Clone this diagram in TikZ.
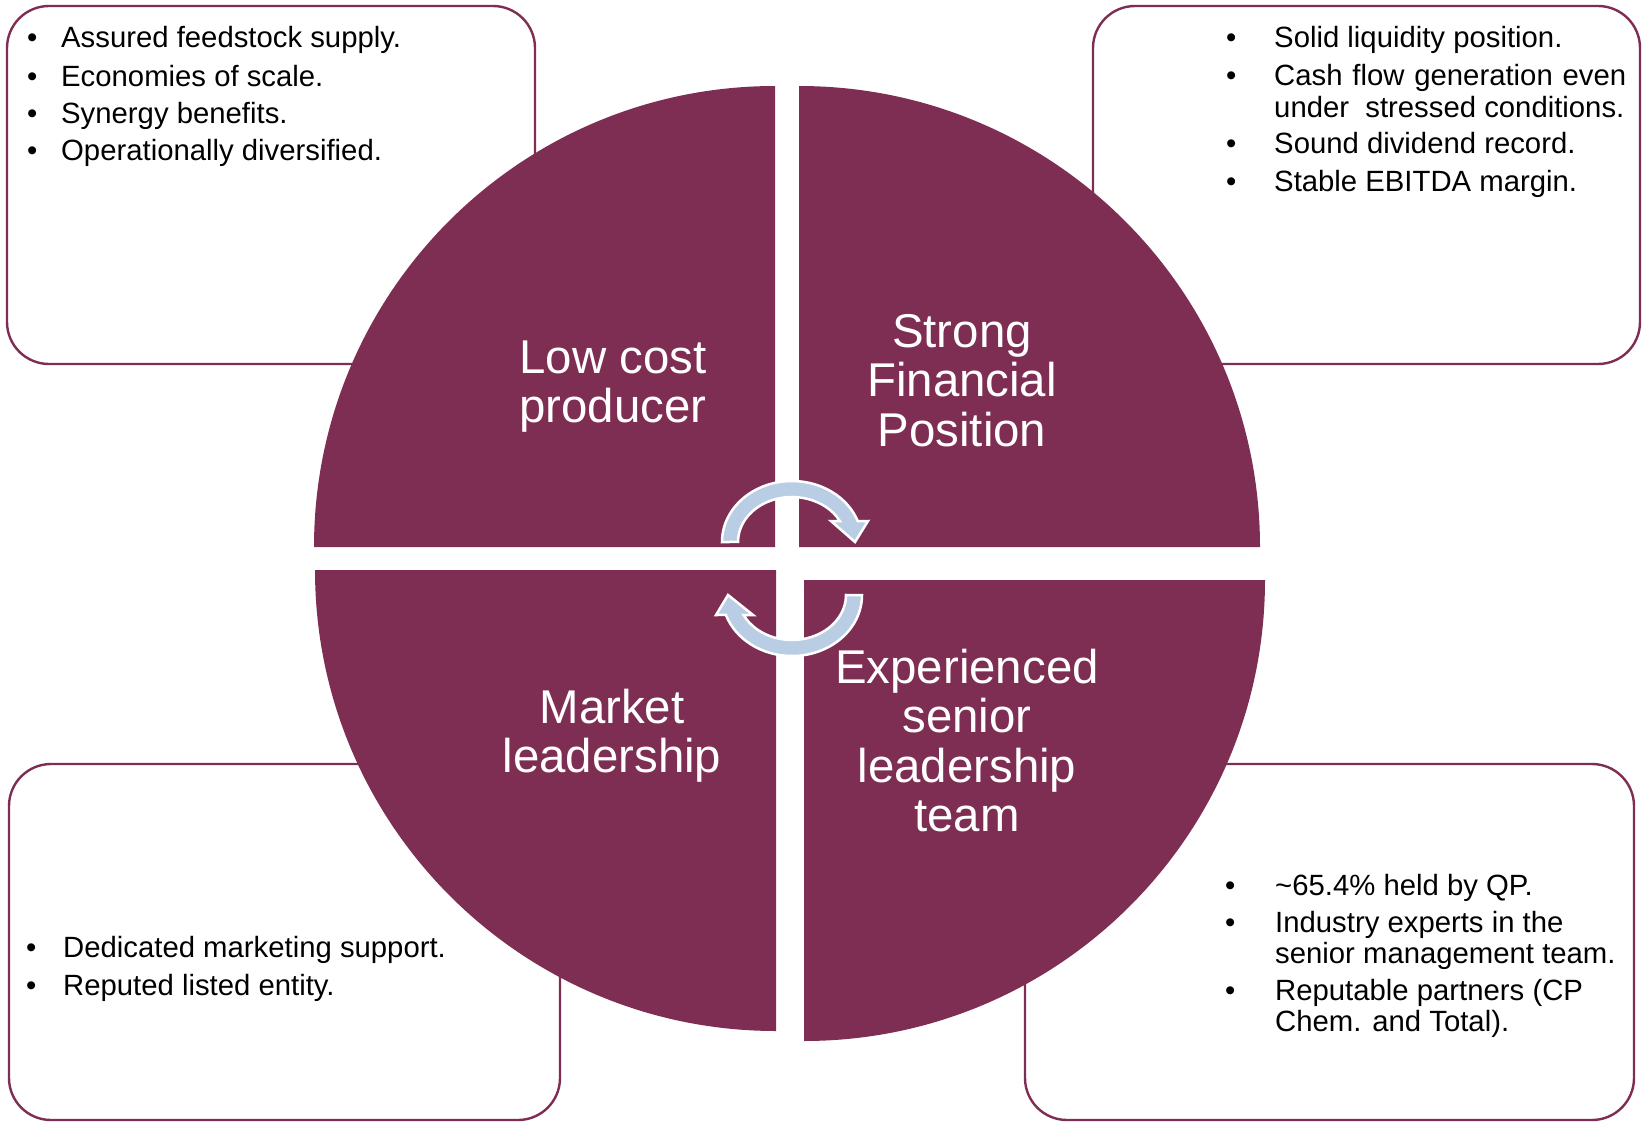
\documentclass[tikz,border=0pt]{standalone}
\usepackage{fontspec}
\setmainfont{Liberation Sans}
\definecolor{maroon}{RGB}{127,46,83}
\definecolor{arrowblue}{RGB}{185,205,229}
\newcommand{\bitem}[3]{\makebox[#1][l]{\textbullet}\parbox[t]{#2}{\raggedright #3}}
\begin{document}
\begin{tikzpicture}[x=1pt,y=-1pt,
  infobox/.style={draw=maroon, line width=2.4pt, fill=white, rounded corners=42pt},
  quadrant/.style={fill=maroon},
  band/.style={fill=arrowblue, draw=white, line width=2.5pt, line join=miter},
  quadlabel/.style={text=white, inner sep=0pt, anchor=base, font=\fontsize{47.4}{49.5}\selectfont},
  bulletitem/.style={inner sep=0pt, anchor=base west, font=\fontsize{29.3}{32}\selectfont}]
\useasboundingbox (0,0) rectangle (1643,1124);
% info boxes
\draw[infobox] (7,6) rectangle (535,364);
\draw[infobox] (1093,6) rectangle (1640,364);
\draw[infobox] (9,764) rectangle (560,1120);
\draw[infobox] (1025,764) rectangle (1634,1120);
% quadrants
\fill[quadrant] (775,547) -- (314,547) arc[start angle=180, end angle=270, radius=461] -- cycle;
\fill[quadrant] (799,547) -- (799,86) arc[start angle=270, end angle=360, radius=461] -- cycle;
\fill[quadrant] (776,570) -- (776,1031) arc[start angle=90, end angle=180, radius=461] -- cycle;
\fill[quadrant] (804,580) -- (1265,580) arc[start angle=0, end angle=90, radius=461] -- cycle;
% circular arrows
\path[band] (722,542) arc[start angle=180, end angle=339.9, x radius=70, y radius=61]
  -- (868,521) -- (855,542) -- (831,521) -- (839.8,521)
  arc[start angle=332.2, end angle=180, x radius=54, y radius=45] -- cycle;
\path[band] (862,595) arc[start angle=0, end angle=160.9, x radius=70, y radius=61]
  -- (716,615) -- (728,595) -- (753,615) -- (743.6,615)
  arc[start angle=153.6, end angle=0, x radius=54, y radius=45] -- cycle;
% quadrant labels
\node[quadlabel] (lowcost) at (613,373) {\parbox[t]{300pt}{\centering Low cost\\producer}};
\node[quadlabel] (financial) at (962,347) {\parbox[t]{300pt}{\centering Strong\\Financial\\Position}};
\node[quadlabel] (market) at (612,723) {\parbox[t]{300pt}{\centering Market\\leadership}};
\node[quadlabel] (team) at (967,683) {\parbox[t]{320pt}{\centering Experienced\\senior\\leadership\\team}};
% top-left box
\node[bulletitem] (tl1) at (27,48) {\bitem{34pt}{440pt}{Assured feedstock supply.}};
\node[bulletitem] (tl2) at (27,86) {\bitem{34pt}{440pt}{Economies of scale.}};
\node[bulletitem] (tl3) at (27,123) {\bitem{34pt}{440pt}{Synergy benefits.}};
\node[bulletitem] (tl4) at (27,160) {\bitem{34pt}{440pt}{Operationally diversified.}};
% top-right box
\node[bulletitem] (tr1) at (1226,48) {\bitem{48pt}{360pt}{Solid liquidity position.}};
\node[bulletitem] (tr2) at (1226,85) {\bitem{48pt}{360pt}{\makebox[352pt][s]{Cash flow generation even}\\under~ stressed conditions.}};
\node[bulletitem] (tr3) at (1226,153) {\bitem{48pt}{360pt}{Sound dividend record.}};
\node[bulletitem] (tr4) at (1226,191) {\bitem{48pt}{360pt}{Stable EBITDA margin.}};
% bottom-left box
\node[bulletitem] (bl1) at (26,957) {\bitem{37pt}{440pt}{Dedicated marketing support.}};
\node[bulletitem] (bl2) at (26,995) {\bitem{37pt}{440pt}{Reputed listed entity.}};
% bottom-right box
\node[bulletitem, font=\fontsize{29.3}{31}\selectfont] (br1) at (1225,895) {\bitem{50pt}{350pt}{\textasciitilde65.4\% held by QP.}};
\node[bulletitem, font=\fontsize{29.3}{31}\selectfont] (br2) at (1225,932) {\bitem{50pt}{350pt}{Industry experts in the\\senior management team.}};
\node[bulletitem, font=\fontsize{29.3}{31}\selectfont] (br3) at (1225,1000) {\bitem{50pt}{350pt}{Reputable partners (CP\\Chem. and Total).}};
\end{tikzpicture}
\end{document}
